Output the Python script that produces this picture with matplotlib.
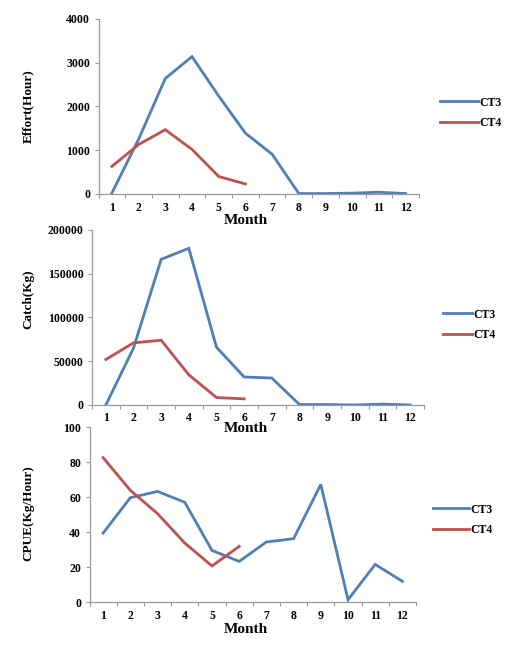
import numpy as np
import matplotlib
matplotlib.use("Agg")
import matplotlib.pyplot as plt

# ==========================================================
# DATA
# ==========================================================
months = list(range(1, 13))
months_ct4 = list(range(1, 7))

effort_ct3 = [20, 1250, 2640, 3140, 2240, 1390, 910, 10, 10, 20, 40, 10]
effort_ct4 = [630, 1130, 1470, 1020, 400, 230]

catch_ct3 = [0, 65000, 166500, 179000, 66000, 32000, 30800, 500, 500, 0, 1000, 0]
catch_ct4 = [52000, 71000, 74000, 34500, 8500, 7000]

cpue_ct3 = [39.4, 59.6, 63.2, 57.0, 29.5, 23.2, 34.3, 36.2, 67.2, 1.3, 21.5, 11.8]
cpue_ct4 = [82.5, 63.8, 50.5, 33.7, 20.6, 31.8]

BLUE = "#4f7fb8"
RED = "#c0504d"
FONT = "Liberation Serif"

plt.rcParams["font.family"] = [FONT, "DejaVu Serif"]
plt.rcParams["font.weight"] = "bold"

fig = plt.figure(figsize=(5.31, 6.46), dpi=100)

panels = [
    # rect, ct3, ct4, ylim, yticks, ylabel, ylabel y, month y, x pad, legend anchor, handle len
    ([0.1855, 0.6997, 0.6036, 0.2709], effort_ct3, effort_ct4,
     (0, 4000), [0, 1000, 2000, 3000, 4000], "Effort(Hour)", 0.835, 0.659, 6,
     (0.829, 0.825), 3.2),
    ([0.1733, 0.3731, 0.6250, 0.2709], catch_ct3, catch_ct4,
     (0, 200000), [0, 50000, 100000, 150000, 200000], "Catch(Kg)", 0.537, 0.336, 5,
     (0.834, 0.497), 2.5),
    ([0.1686, 0.0681, 0.6149, 0.2709], cpue_ct3, cpue_ct4,
     (0, 100), [0, 20, 40, 60, 80, 100], "CPUE(Kg/Hour)", 0.205, 0.025, 6,
     (0.815, 0.195), 3.1),
]

for rect, ct3, ct4, ylim, yticks, ylabel, ylab_y, month_y, xpad, anchor, hlen in panels:
    ax = fig.add_axes(rect)
    ax.patch.set_visible(False)
    ax.plot(months, ct3, color=BLUE, lw=2.0, label="CT3", solid_joinstyle="miter")
    ax.plot(months_ct4, ct4, color=RED, lw=2.0, label="CT4", solid_joinstyle="miter")

    ax.set_xlim(0.5, 12.5)
    ax.set_ylim(*ylim)
    ax.set_yticks(yticks)
    ax.set_yticklabels([str(v) for v in yticks], fontsize=8.5, fontweight="bold")

    # category axis: labels at the months, tick marks between them
    ax.set_xticks(months)
    ax.set_xticklabels([str(m) for m in months], fontsize=8.5, fontweight="bold")
    ax.set_xticks(np.arange(0.5, 13, 1), minor=True)
    ax.tick_params(axis="x", which="major", length=0, pad=xpad)
    ax.tick_params(axis="x", which="minor", length=3, color="#999999", width=0.8)
    ax.tick_params(axis="y", length=3, color="#999999", width=0.8, pad=3)

    for side in ["top", "right"]:
        ax.spines[side].set_visible(False)
    for side in ["left", "bottom"]:
        ax.spines[side].set_color("#999999")
        ax.spines[side].set_linewidth(0.9)

    ax.set_xlabel("Month", fontsize=11, fontweight="bold", va="center")
    ax.xaxis.set_label_coords(0.463, month_y, transform=fig.transFigure)
    ax.set_ylabel(ylabel, fontsize=9.5, fontweight="bold", va="center")
    ax.yaxis.set_label_coords(0.053, ylab_y, transform=fig.transFigure)

    fig.legend(handles=ax.get_lines(), loc="center left", bbox_to_anchor=anchor,
               frameon=False, fontsize=8.5, handlelength=hlen, handletextpad=0.1,
               labelspacing=0.75, borderaxespad=0, borderpad=0)

fig.savefig("out.png", dpi=100, facecolor="white")
